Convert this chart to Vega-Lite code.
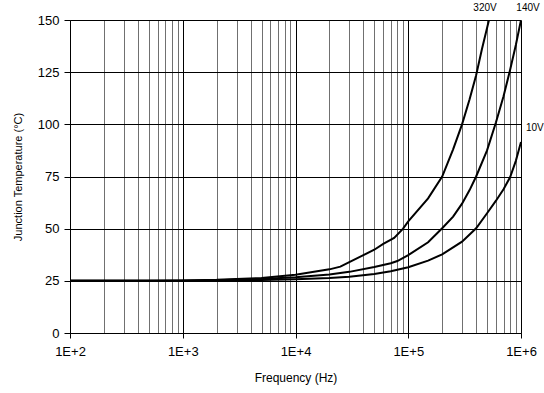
{
  "$schema": "https://vega.github.io/schema/vega-lite/v6.json",
  "width": 451,
  "height": 313,
  "autosize": "none",
  "padding": {"left": 70, "top": 20, "right": 23, "bottom": 60},
  "background": "white",
  "config": {
    "view": {"stroke": null},
    "font": "Liberation Sans",
    "axis": {"labelFont": "Liberation Sans", "titleFont": "Liberation Sans", "titleFontWeight": "normal", "labelColor": "black", "titleColor": "black"}
  },
  "datasets": {
    "curves": [
      {"series": "320V", "f": 100, "t": 25},
      {"series": "320V", "f": 500, "t": 25},
      {"series": "320V", "f": 1000, "t": 25.2},
      {"series": "320V", "f": 2000, "t": 25.5},
      {"series": "320V", "f": 5000, "t": 26.4},
      {"series": "320V", "f": 10000, "t": 27.9},
      {"series": "320V", "f": 20000, "t": 30.5},
      {"series": "320V", "f": 25000, "t": 31.8},
      {"series": "320V", "f": 30000, "t": 34.0},
      {"series": "320V", "f": 40000, "t": 37.3},
      {"series": "320V", "f": 50000, "t": 39.9},
      {"series": "320V", "f": 60000, "t": 42.7},
      {"series": "320V", "f": 75000, "t": 45.6},
      {"series": "320V", "f": 90000, "t": 50},
      {"series": "320V", "f": 100000, "t": 53.5},
      {"series": "320V", "f": 150000, "t": 64.5},
      {"series": "320V", "f": 200000, "t": 75},
      {"series": "320V", "f": 250000, "t": 88},
      {"series": "320V", "f": 300000, "t": 100},
      {"series": "320V", "f": 350000, "t": 112},
      {"series": "320V", "f": 400000, "t": 123.5},
      {"series": "320V", "f": 450000, "t": 136},
      {"series": "320V", "f": 520000, "t": 150},
      {"series": "140V", "f": 100, "t": 25},
      {"series": "140V", "f": 1000, "t": 25.1},
      {"series": "140V", "f": 2000, "t": 25.3},
      {"series": "140V", "f": 5000, "t": 25.9},
      {"series": "140V", "f": 10000, "t": 26.7},
      {"series": "140V", "f": 20000, "t": 28.0},
      {"series": "140V", "f": 30000, "t": 29.3},
      {"series": "140V", "f": 50000, "t": 31.6},
      {"series": "140V", "f": 70000, "t": 33.4},
      {"series": "140V", "f": 80000, "t": 34.5},
      {"series": "140V", "f": 100000, "t": 37.3},
      {"series": "140V", "f": 150000, "t": 43.5},
      {"series": "140V", "f": 200000, "t": 50.2},
      {"series": "140V", "f": 250000, "t": 55.8},
      {"series": "140V", "f": 300000, "t": 62},
      {"series": "140V", "f": 350000, "t": 68.5},
      {"series": "140V", "f": 400000, "t": 75},
      {"series": "140V", "f": 500000, "t": 87.5},
      {"series": "140V", "f": 600000, "t": 101},
      {"series": "140V", "f": 700000, "t": 113.5},
      {"series": "140V", "f": 800000, "t": 126},
      {"series": "140V", "f": 900000, "t": 138},
      {"series": "140V", "f": 1000000, "t": 150},
      {"series": "10V", "f": 100, "t": 25},
      {"series": "10V", "f": 1000, "t": 25.0},
      {"series": "10V", "f": 2000, "t": 25.1},
      {"series": "10V", "f": 5000, "t": 25.4},
      {"series": "10V", "f": 10000, "t": 25.8},
      {"series": "10V", "f": 20000, "t": 26.4},
      {"series": "10V", "f": 30000, "t": 27.0},
      {"series": "10V", "f": 50000, "t": 28.3},
      {"series": "10V", "f": 70000, "t": 29.6},
      {"series": "10V", "f": 100000, "t": 31.5},
      {"series": "10V", "f": 150000, "t": 34.7},
      {"series": "10V", "f": 200000, "t": 37.7},
      {"series": "10V", "f": 300000, "t": 43.8},
      {"series": "10V", "f": 400000, "t": 50.2},
      {"series": "10V", "f": 500000, "t": 57.4},
      {"series": "10V", "f": 600000, "t": 63.4},
      {"series": "10V", "f": 700000, "t": 68.9},
      {"series": "10V", "f": 800000, "t": 74.6},
      {"series": "10V", "f": 900000, "t": 82.5},
      {"series": "10V", "f": 1000000, "t": 91.5}
    ],
    "labels": [
      {"label": "320V", "f": 479500, "t": 155.7, "anchor": "center"},
      {"label": "140V", "f": 1154000, "t": 155.7, "anchor": "center"},
      {"label": "10V", "f": 1107000, "t": 98.2, "anchor": "left"}
    ]
  },
  "layer": [
    {
      "data": {"name": "curves"},
      "mark": {"type": "line", "color": "black", "strokeWidth": 2, "clip": true},
      "encoding": {
        "x": {
          "field": "f",
          "type": "quantitative",
          "scale": {"type": "log", "domain": [100, 1000000], "nice": false},
          "axis": {
            "title": "Frequency (Hz)",
            "titleFontSize": 12,
            "titlePadding": 14,
            "values": [100,200,300,400,500,600,700,800,900,1000,2000,3000,4000,5000,6000,7000,8000,9000,10000,20000,30000,40000,50000,60000,70000,80000,90000,100000,200000,300000,400000,500000,600000,700000,800000,900000,1000000],
            "labelExpr": "indexof([100,1000,10000,100000,1000000], datum.value) >= 0 ? '1E+' + round(log(datum.value)/LN10) : ''",
            "labelFontSize": 13,
            "labelPadding": 7,
            "labelOverlap": false,
            "labelBound": false,
            "labelFlush": false,
            "grid": true,
            "gridColor": {"condition": {"test": "indexof([100,1000,10000,100000,1000000], datum.value) >= 0", "value": "#000000"}, "value": "#707070"},
            "gridWidth": 1,
            "gridOpacity": 1,
            "tickSize": 5,
            "tickColor": "black",
            "tickOpacity": {"condition": {"test": "indexof([100,1000,10000,100000,1000000], datum.value) >= 0", "value": 1}, "value": 0},
            "domainColor": "black"
          }
        },
        "y": {
          "field": "t",
          "type": "quantitative",
          "scale": {"domain": [0, 150], "nice": false},
          "axis": {
            "title": "Junction Temperature (°C)",
            "titleFontSize": 11,
            "titlePadding": 14,
            "values": [0, 25, 50, 75, 100, 125, 150],
            "labelFontSize": 13,
            "labelPadding": 5,
            "grid": true,
            "gridColor": "black",
            "gridOpacity": 1,
            "tickSize": 6,
            "tickColor": "black",
            "domainColor": "black"
          }
        },
        "detail": {"field": "series", "type": "nominal"}
      }
    },
    {
      "data": {"name": "labels"},
      "transform": [{"filter": "datum.anchor == 'center'"}],
      "mark": {"type": "text", "fontSize": 10, "font": "Liberation Sans", "color": "black", "align": "center", "baseline": "middle"},
      "encoding": {
        "x": {"field": "f", "type": "quantitative"},
        "y": {"field": "t", "type": "quantitative"},
        "text": {"field": "label", "type": "nominal"}
      }
    },
    {
      "data": {"name": "labels"},
      "transform": [{"filter": "datum.anchor == 'left'"}],
      "mark": {"type": "text", "fontSize": 10, "font": "Liberation Sans", "color": "black", "align": "left", "baseline": "middle"},
      "encoding": {
        "x": {"field": "f", "type": "quantitative"},
        "y": {"field": "t", "type": "quantitative"},
        "text": {"field": "label", "type": "nominal"}
      }
    }
  ]
}
